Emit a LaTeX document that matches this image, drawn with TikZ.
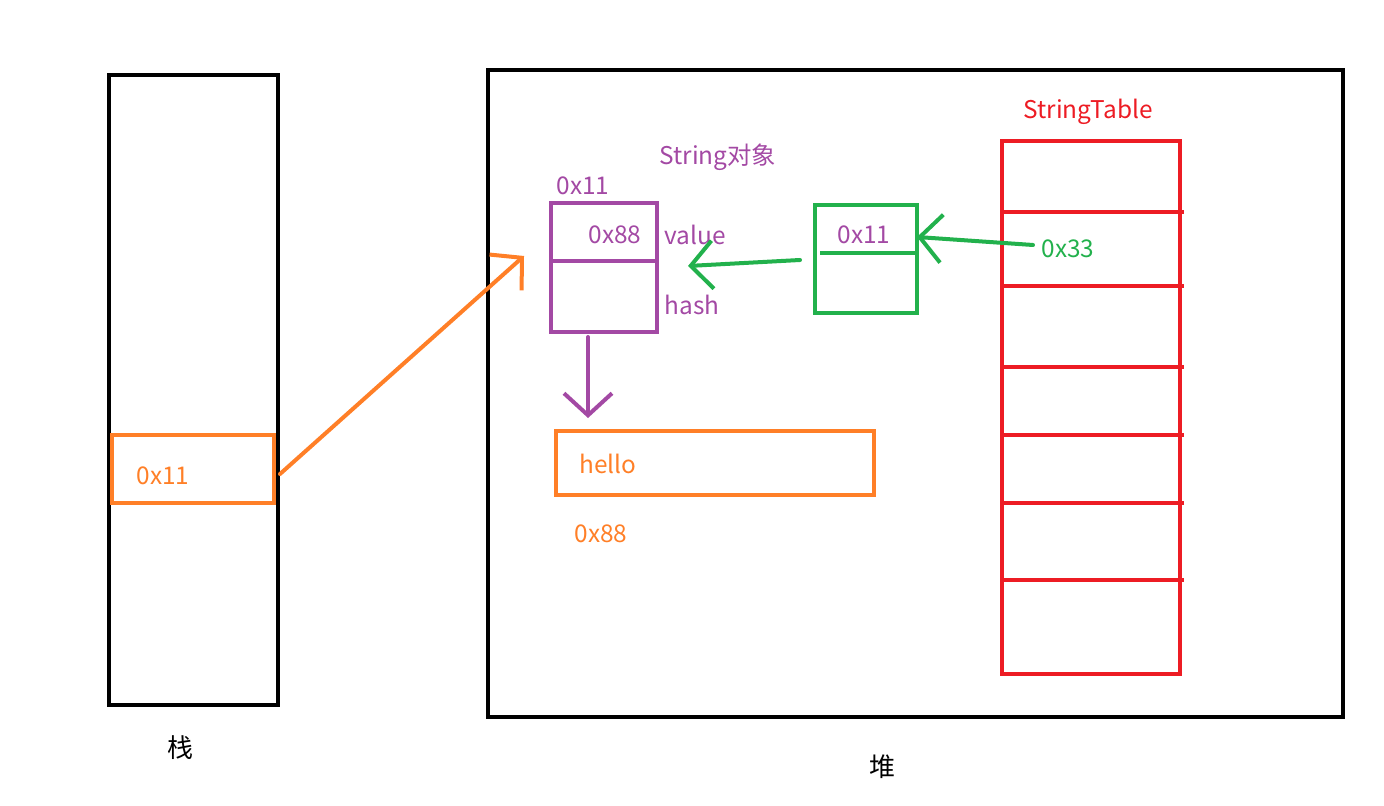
\documentclass[tikz,border=0pt]{standalone}
\usepackage{fontspec}
\setmainfont{Noto Sans CJK SC}
\usetikzlibrary{arrows.meta}

\definecolor{paintOrange}{RGB}{255,127,39}
\definecolor{paintPurple}{RGB}{163,73,164}
\definecolor{paintGreen}{RGB}{34,177,76}
\definecolor{paintRed}{RGB}{237,28,36}

\begin{document}
\begin{tikzpicture}[
        x=0.5pt, y=-0.5pt,
        >={Straight Barb[length=11pt,width=24pt]},
        every node/.style={font=\fontsize{12.2}{14}\selectfont},
        memBox/.style={draw, line width=2pt, inner sep=0pt},
        objLine/.style={paintPurple, line width=2pt},
        refArrow/.style={->, line width=2pt, line cap=round},
        tableLine/.style={paintRed, line width=2pt},
        areaLbl/.style={font=\fontsize{13}{15}\selectfont}
    ]
        \useasboundingbox (0,0) rectangle (1384,806);

        % Stack and heap frames
        \node[memBox, black, minimum width=84.5pt, minimum height=315pt] (stack) at (193.5,390) {};
        \node[memBox, black, minimum width=427.5pt, minimum height=323.5pt] (heap) at (915.5,393.5) {};
        \node[areaLbl] (stacklbl) at (180,748) {栈};
        \node[areaLbl] (heaplbl) at (882,767) {堆};

        % Local variable slot on the stack
        \node[memBox, paintOrange, minimum width=81pt, minimum height=34pt] (slot) at (193,469) {};
        \node[paintOrange] (slotval) at (163,476) {0x11};

        % String object
        \node[memBox, paintPurple, minimum width=53pt, minimum height=64.5pt] (strobj) at (604,267.5) {};
        \draw[objLine] (strobj.west |- 0,261) -- (strobj.east |- 0,261);
        \node[paintPurple] (objtitle) at (718,157) {String对象};
        \node[paintPurple] (objaddr) at (583,186) {0x11};
        \node[paintPurple] (objval) at (615,235) {0x88};
        \node[paintPurple] (valuelbl) at (695,235) {value};
        \node[paintPurple] (hashlbl) at (692,305) {hash};

        % char array
        \node[memBox, paintOrange, minimum width=159pt, minimum height=32pt] (chars) at (715,463) {};
        \node[paintOrange] (charstxt) at (608,464) {hello};
        \node[paintOrange] (charsaddr) at (601,534) {0x88};

        % Table entry
        \node[memBox, paintGreen, minimum width=51pt, minimum height=54pt] (entry) at (866,259) {};
        \draw[paintGreen, line width=2pt] (820,253) -- (entry.east |- 0,253);
        \node[paintPurple] (entryval) at (864,235) {0x11};

        % StringTable
        \node[memBox, paintRed, minimum width=89pt, minimum height=266.5pt] (table) at (1091,407.5) {};
        \node[paintRed] (tabletitle) at (1088,112) {StringTable};
        \foreach \ry in {212,286,367,435,503,580}
            \draw[tableLine] (table.west |- 0,\ry) -- (1184,\ry);
        \node[paintGreen] (bucketval) at (1068,249) {0x33};

        % References
        \coordinate (objin) at (524,256);
        \coordinate (valout) at (588,337);
        \coordinate (charsin) at (588,418);
        \coordinate (entryout) at (800,260);
        \coordinate (valuein) at (688,266);
        \coordinate (bucketout) at (1033,245);
        \coordinate (entryin) at (917,237);

        \draw[refArrow, paintOrange] (slot.east) ++(4,5) -- (objin);
        \draw[refArrow, paintPurple] (valout) -- (charsin);
        \draw[refArrow, paintGreen] (entryout) -- (valuein);
        \draw[refArrow, paintGreen] (bucketout) -- (entryin);

    \end{tikzpicture}
\end{document}
